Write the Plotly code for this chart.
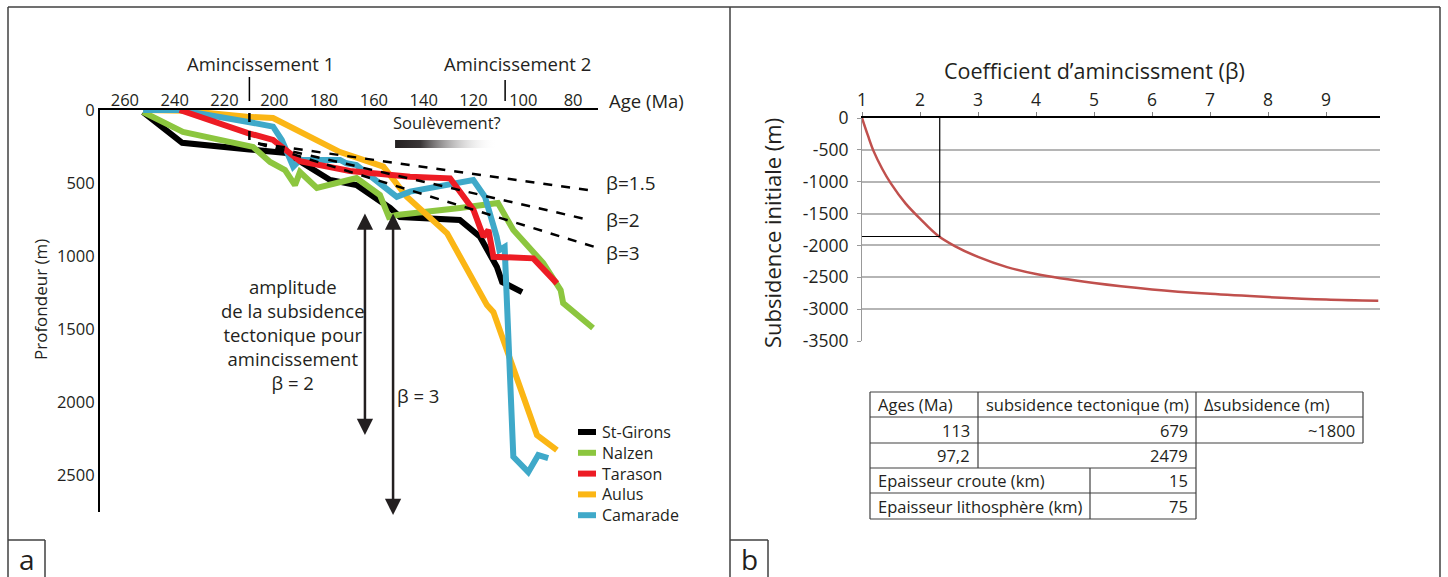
import plotly.graph_objects as go

W, H = 1448, 577
FONT = "Open Sans"
INK = "#231f20"

# ---- panel a : burial curves (age Ma, depth m) ----
sg_age = [252.7, 237.0, 210.0, 195.0, 177.6, 167.0, 153.5, 149.5, 125.5, 117.4, 110.6, 108.5, 100.5]
sg_depth = [14, 225, 270, 295, 479, 514, 671, 733, 753, 868, 1075, 1178, 1247]

na_age = [252.7, 236.7, 208.5, 201.7, 195.7, 191.7, 189.7, 182.9, 167.0, 157.6, 154.0, 150.8, 125.5, 110.2, 104.0, 92.0, 85.0, 84.0, 72.0]
na_depth = [14, 150, 253, 356, 411, 514, 425, 534, 466, 582, 733, 719, 671, 637, 822, 1048, 1233, 1322, 1493]

ta_age = [238.0, 210.6, 200.5, 189.7, 169.6, 145.5, 129.4, 120.0, 116.0, 114.0, 112.0, 96.0, 86.5]
ta_depth = [0, 158, 205, 350, 418, 457, 468, 685, 868, 822, 1005, 1016, 1187]

au_age = [252.7, 236.0, 211.0, 200.5, 173.6, 156.2, 146.8, 130.6, 114.6, 112.0, 94.5, 86.5]
au_depth = [0, 5, 46, 55, 288, 388, 594, 845, 1336, 1384, 2226, 2329]

ca_age = [252.7, 238.0, 211.0, 200.5, 197.0, 192.4, 189.7, 173.6, 171.0, 167.0, 150.8, 145.5, 120.1, 115.4, 110.7, 109.6, 107.5, 104.0, 98.0, 94.0, 90.0]
ca_depth = [0, 0, 80, 114, 205, 388, 342, 342, 365, 377, 594, 559, 479, 594, 868, 959, 938, 2375, 2480, 2363, 2384]

# theoretical subsidence for beta = 1.5, 2, 3 (start / end)
beta_labels = ["β=1.5", "β=2", "β=3"]
beta_age = [[206.5, 71.0], [206.5, 73.5], [206.5, 70.0]]
beta_depth = [[230, 555], [230, 753], [230, 945]]

uplift_age = [151.5, 110.6]     # "Soulèvement?" bar
uplift_depth = [205, 260]

arrow_age = [163.6, 152.3]
arrow_top = [699, 699]
arrow_bottom = [2226, 2774]

thinning_age = [210.0, 107.3]   # Amincissement 1, 2

# ---- panel b : initial subsidence vs beta ----
beta = [1, 1.1, 1.2, 1.35, 1.5, 1.75, 2, 2.3, 2.6, 3, 3.5, 4, 5, 6, 7, 8, 9, 9.9]
subs0 = [0, -270, -520, -800, -1030, -1340, -1580, -1840, -2010, -2180, -2340, -2450, -2590, -2690, -2760, -2810, -2850, -2870]
beta_read, subs_read = 2.34, -1860
subs_ticks = [0, -500, -1000, -1500, -2000, -2500, -3000, -3500]

tab_header = ["Ages (Ma)", "subsidence tectonique (m)", "Δsubsidence (m)"]
tab_ages = ["113", "97,2"]
tab_subs = ["679", "2479"]
tab_delta = "~1800"
tab_params = ["Epaisseur croute (km)", "Epaisseur lithosphère (km)"]
tab_values = ["15", "75"]


def px(x):
    return x / W


def py(y):
    return 1 - y / H


fig = go.Figure()

series = [
    ("St-Girons", sg_age, sg_depth, "#000000"),
    ("Nalzen", na_age, na_depth, "#8cc63f"),
    ("Aulus", au_age, au_depth, "#fbb615"),
    ("Camarade", ca_age, ca_depth, "#3fa9c9"),
    ("Tarason", ta_age, ta_depth, "#ed1c24"),
]
colors = {}
for name, xs, ys, col in series:
    colors[name] = col
    fig.add_trace(go.Scatter(x=xs, y=ys, mode="lines", name=name, showlegend=False,
                             line=dict(color=col, width=6), cliponaxis=False))

for xs, ys in zip(beta_age, beta_depth):
    fig.add_trace(go.Scatter(x=xs, y=ys, mode="lines", showlegend=False, cliponaxis=False,
                             line=dict(color="#000000", width=2.5, dash="dash")))

# uplift gradient bar
fig.add_trace(go.Scatter(
    x=[uplift_age[0], uplift_age[1], uplift_age[1], uplift_age[0], uplift_age[0]],
    y=[uplift_depth[0], uplift_depth[0], uplift_depth[1], uplift_depth[1], uplift_depth[0]],
    mode="lines", fill="toself", showlegend=False, line=dict(width=0),
    fillgradient=dict(type="horizontal", start=uplift_age[0], stop=uplift_age[1],
                      colorscale=[[0, "#231f20"], [0.25, "#3a3637"], [1, "rgba(255,255,255,0)"]]),
))

# panel b curve + reading lines
fig.add_trace(go.Scatter(x=beta, y=subs0, mode="lines", xaxis="x2", yaxis="y2", showlegend=False,
                         line=dict(color="#c0504d", width=2.5, shape="spline")))
fig.add_trace(go.Scatter(x=[1, beta_read, beta_read], y=[subs_read, subs_read, 0], mode="lines",
                         xaxis="x2", yaxis="y2", showlegend=False,
                         line=dict(color="#000000", width=1.2)))

shapes = []


def seg(x0, y0, x1, y1, color="#404040", width=1.5, dash=None):
    shapes.append(dict(type="line", xref="paper", yref="paper", x0=px(x0), y0=py(y0),
                       x1=px(x1), y1=py(y1), line=dict(color=color, width=width, dash=dash)))


# frame
seg(8, 7, 1440, 7)
seg(8, 7, 8, 577)
seg(1440, 7, 1440, 577)
seg(730, 7, 730, 577)
seg(8, 540, 45, 540)
seg(45, 540, 45, 577)
seg(730, 540, 768, 540)
seg(768, 540, 768, 577)

# thinning ticks above the age axis
for a, ytop in zip(thinning_age, [77, 80]):
    shapes.append(dict(type="line", xref="x", yref="paper", x0=a, x1=a, y0=py(ytop), y1=py(101),
                       line=dict(color="#000000", width=1.5)))
shapes.append(dict(type="line", xref="x", yref="y", x0=thinning_age[0], x1=thinning_age[0],
                   y0=20, y1=230, line=dict(color="#000000", width=2.5, dash="dash")))

# table
tl, c1, c2, c3, tr = 870, 978, 1090, 1196, 1363
rows = [392, 417, 443, 468, 493, 519]
for i, yy in enumerate(rows):
    seg(tl, yy, tr if i <= 2 else c3, yy, width=1.2)
seg(tl, rows[0], tl, rows[5], width=1.2)
seg(c1, rows[0], c1, rows[3], width=1.2)
seg(c3, rows[0], c3, rows[5], width=1.2)
seg(tr, rows[0], tr, rows[2], width=1.2)
seg(c2, rows[3], c2, rows[5], width=1.2)

ann = []


def txt(x, y, s, size=16, xanchor="center", angle=0, color=INK):
    ann.append(dict(x=px(x), y=py(y), xref="paper", yref="paper", text=s, showarrow=False,
                    xanchor=xanchor, yanchor="middle", textangle=angle,
                    font=dict(family=FONT, size=size, color=color)))


# legend drawn by hand (tight rows like the original)
legend_order = ["St-Girons", "Nalzen", "Tarason", "Aulus", "Camarade"]
for i, name in enumerate(legend_order):
    yy = 432 + 20.8 * i
    seg(578, yy, 596, yy, color=colors[name], width=6)
    txt(600, yy, name, 16, "left")

txt(260, 64, "Amincissement 1", 18.5)
txt(517, 64, "Amincissement 2", 18.5)
txt(607, 101, "Age (Ma)", 18.5, "left")
txt(447, 123, "Soulèvement?", 16.5)
txt(40, 300, "Profondeur (m)", 17, angle=-90)
for lab, yy in zip(beta_labels, [183, 220, 253]):
    txt(604, yy, lab, 19, "left")
txt(293, 334, "amplitude<br>de la subsidence<br>tectonique pour<br>amincissement<br>β = 2", 18.5)
txt(418, 395, "β = 3", 18.5)
txt(27, 559, "a", 28)
txt(749, 559, "b", 28)

txt(1094, 71, "Coefficient d’amincissment (β)", 21.5)
txt(772, 233, "Subsidence initiale (m)", 22, angle=-90)

# table text
rc = [(rows[i] + rows[i + 1]) / 2 for i in range(5)]
for x0, s in zip([tl, c1, c3], tab_header):
    txt(x0 + 6, rc[0], s, 16.5, "left")
for i in range(2):
    txt(c1 - 6, rc[i + 1], tab_ages[i], 16.5, "right")
    txt(c3 - 6, rc[i + 1], tab_subs[i], 16.5, "right")
txt(tr - 6, rc[1], tab_delta, 16.5, "right")
for i in range(2):
    txt(tl + 6, rc[i + 3], tab_params[i], 16.5, "left")
    txt(c3 - 6, rc[i + 3], tab_values[i], 16.5, "right")

for a, y0, y1 in zip(arrow_age, arrow_top, arrow_bottom):
    ann.append(dict(x=a, y=y1, ax=a, ay=y0, xref="x", yref="y", axref="x", ayref="y", text="",
                    showarrow=True, arrowhead=2, startarrowhead=2, arrowside="end+start",
                    arrowsize=1.3, startarrowsize=1.3, arrowwidth=2.5, arrowcolor=INK))

fig.update_layout(
    width=W, height=H, margin=dict(l=0, r=0, t=0, b=0, autoexpand=False),
    paper_bgcolor="white", plot_bgcolor="white",
    font=dict(family=FONT, color=INK),
    shapes=shapes, annotations=ann, showlegend=False,
    xaxis=dict(domain=[px(100), px(598)], range=[270, 70], side="top", showgrid=False,
               zeroline=False, showline=True, linecolor="#000000", linewidth=2, automargin=False,
               tickvals=list(range(260, 79, -20)), tickfont=dict(size=16.5), ticks="",
               ticklabelstandoff=-5),
    yaxis=dict(domain=[py(512), py(110)], range=[2753, 0], showgrid=False, zeroline=False,
               showline=True, linecolor="#000000", linewidth=2, automargin=False,
               tickvals=[0, 500, 1000, 1500, 2000, 2500], tickfont=dict(size=16.5), ticks=""),
    xaxis2=dict(domain=[px(862), px(1380)], range=[1, 9.93], side="top", anchor="y2",
                showgrid=False, zeroline=False, showline=True, linecolor="#000000", linewidth=1.5,
                tickvals=list(range(1, 10)), ticks="outside", ticklen=4, tickcolor="#808080",
                tickfont=dict(size=17.5), automargin=False, ticklabelstandoff=-1),
    yaxis2=dict(domain=[py(341), py(118)], range=[-3500, 0], anchor="x2", showgrid=True,
                gridcolor="#b5b5b5", gridwidth=1.5, zeroline=False, showline=True,
                linecolor="#999999", linewidth=1, ticks="outside", ticklen=4, tickcolor="#999999",
                tickvals=subs_ticks, ticktext=[str(v) for v in subs_ticks], tickfont=dict(size=17.5),
                automargin=False, ticklabelstandoff=5),
)

# the page body has an 8px default margin that would shift the figure
fig.write_html("out.html", post_script=["document.body.style.margin='0';"],
               config={"displayModeBar": False})
